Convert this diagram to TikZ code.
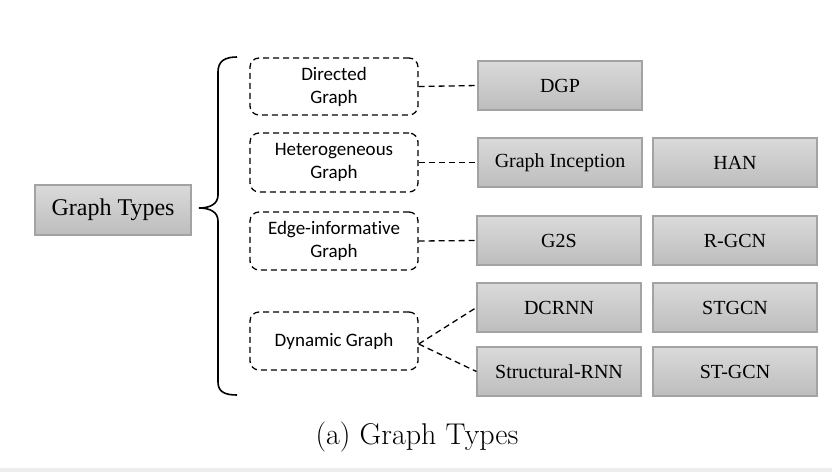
\documentclass[tikz,border=0pt]{standalone}
\usepackage{fontspec}
\setmainfont{Liberation Serif}
\newfontfamily\calib[Ligatures=NoCommon]{Carlito}
\newfontfamily\capfont{Latin Modern Roman}
\definecolor{boxtop}{HTML}{DADADA}
\definecolor{boxbot}{HTML}{BDBDBD}
\definecolor{boxedge}{HTML}{A3A3A3}
\definecolor{sepline}{HTML}{EDEDED}
\begin{document}
\begin{tikzpicture}[x=1pt,y=-1pt,
  model/.style={draw=boxedge,line width=1.2pt,top color=boxtop,bottom color=boxbot,
    minimum width=164pt,minimum height=49pt,inner sep=0pt,font=\fontsize{20}{22}\selectfont},
  root/.style={model,minimum width=156pt,minimum height=50pt,font=\fontsize{24}{26}\selectfont},
  gtype/.style={draw=black,line width=1.3pt,dash pattern=on 6pt off 4pt,rounded corners=9pt,
    minimum width=168pt,align=center,inner sep=0pt,font=\calib\fontsize{19}{23}\selectfont},
  link/.style={draw=black,line width=1.3pt,dash pattern=on 6pt off 4pt}]
\useasboundingbox (0,0) rectangle (832,472);
\fill[sepline] (0,468) rectangle (832,472);

\node[root] (root) at (113,210) {Graph Types};

\draw[line width=1.6pt] (237,57) .. controls (225,57) and (218,61) .. (218,72)
  -- (218,195) .. controls (218,204) and (210,208) .. (199,208)
  .. controls (210,208) and (218,212) .. (218,221)
  -- (218,382) .. controls (218,392) and (225,395) .. (237,395);

\node[gtype,minimum height=57pt] (dir) at (334,86.5) {Directed\\Graph};
\node[gtype,minimum height=59pt] (het) at (334,162.5) {Heterogeneous\\Graph};
\node[gtype,minimum height=58pt] (edge) at (334,241) {Edge-informative\\Graph};
\node[gtype,minimum height=58pt] (dyn) at (334,341) {Dynamic Graph};

\node[model] (dgp) at (560,85.5) {DGP};
\node[model] (gi) at (560,162.5) {Graph Inception};
\node[model] (han) at (735,162.5) {HAN};
\node[model] (g2s) at (559,240.5) {G2S};
\node[model] (rgcn) at (735,240.5) {R-GCN};
\node[model] (dcrnn) at (559,307.5) {DCRNN};
\node[model] (stgcn) at (735,307.5) {STGCN};
\node[model] (srnn) at (559,371.5) {Structural-RNN};
\node[model] (stgcn2) at (735,371.5) {ST-GCN};

\draw[link] (dir.east) -- (dgp.west);
\draw[link] (het.east) -- (gi.west);
\draw[link] (edge.east) -- (g2s.west);
\draw[link] ([yshift=-3pt]dyn.east) -- (dcrnn.west);
\draw[link] ([yshift=-3pt]dyn.east) -- (srnn.west);

\node[font=\capfont\fontsize{30}{32}\selectfont] (cap) at (417,437) {(a) Graph Types};
\end{tikzpicture}
\end{document}
